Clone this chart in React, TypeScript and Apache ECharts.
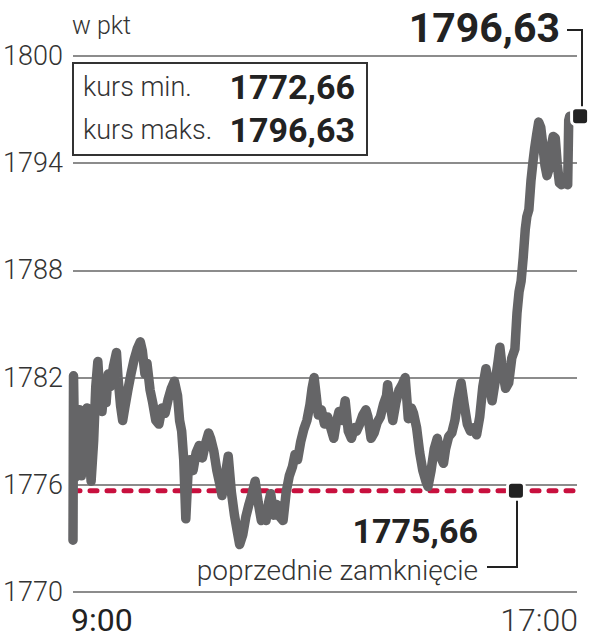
import React, { useEffect, useRef } from "react";
import * as echarts from "echarts";

// Intraday index path: minutes after 9:00 and index points
const minutes = [
  0, 0.5, 2, 3, 4, 6, 8, 11, 13.5, 15.5, 17.5, 20, 22, 24, 26, 28, 30, 32, 34, 36, 39, 42, 43.5, 46, 48, 50,
  53, 56, 59, 62, 65, 67, 69.5, 71.5, 74.5, 77, 80, 83, 86, 89, 92, 95, 98, 101, 103, 105, 107, 109, 111,
  113, 116, 119, 122, 125, 128, 131, 133, 136, 139, 142, 144, 147, 150, 153, 156, 159, 161, 164, 167, 170,
  173, 176, 179, 182, 185, 186.5, 189, 191, 194, 197, 200, 203, 206, 209, 212, 214.5, 217, 220, 223, 226,
  229, 231, 233, 235, 237, 240, 243, 246, 249, 252, 254.5, 257, 260, 263, 266, 269, 272, 274, 277, 280,
  283, 285, 288, 291, 294, 297, 300, 303, 304, 307, 309, 312, 315, 318, 321, 324, 327, 329, 332, 335, 338,
  341, 343, 346, 349, 352, 355, 358, 360, 363, 366, 369, 372, 375, 378, 381, 384, 387, 390, 393, 396, 399,
  402, 405, 408, 411, 412.5, 415, 418, 421, 424, 427, 429, 431, 433, 435, 437, 438.5, 440.5, 442.5, 444.5,
  446, 448, 450, 452, 454, 456, 458, 460, 462, 464, 466, 468, 470, 472, 475, 478, 479, 480,
];
const points = [
  1772.9, 1782.1, 1776.4, 1779.5, 1776.8, 1780.2, 1776.5, 1779.0, 1780.3, 1778.0, 1776.2, 1778.5, 1781.5,
  1782.9, 1781.0, 1780.1, 1781.3, 1780.6, 1782.2, 1781.5, 1782.6, 1783.4, 1782.0, 1780.4, 1779.6, 1780.3,
  1781.3, 1782.2, 1783.0, 1783.6, 1784.0, 1783.5, 1782.2, 1782.8, 1781.3, 1780.6, 1779.6, 1779.4, 1780.3,
  1780.0, 1780.8, 1781.4, 1781.8, 1781.0, 1779.6, 1779.0, 1777.4, 1774.1, 1776.5, 1777.4, 1776.8, 1777.8,
  1778.2, 1777.5, 1778.3, 1778.9, 1778.6, 1777.9, 1776.8, 1776.0, 1775.4, 1776.5, 1777.6, 1775.6, 1774.3,
  1773.3, 1772.66, 1773.2, 1774.2, 1774.9, 1775.5, 1776.2, 1775.0, 1774.0, 1774.6, 1774.0, 1775.0, 1775.5,
  1774.3, 1774.9, 1774.2, 1774.0, 1775.6, 1776.5, 1777.0, 1777.7, 1777.4, 1778.4, 1779.1, 1779.6, 1780.5,
  1781.4, 1782.0, 1781.0, 1779.9, 1780.2, 1779.4, 1779.8, 1779.2, 1778.6, 1779.5, 1780.1, 1779.6, 1780.7,
  1779.0, 1778.6, 1779.2, 1779.0, 1779.4, 1779.9, 1780.2, 1779.8, 1778.6, 1778.9, 1779.5, 1779.8, 1780.5,
  1781.0, 1781.6, 1780.3, 1779.6, 1780.6, 1781.3, 1781.6, 1782.0, 1779.7, 1780.3, 1780.0, 1779.2, 1777.8,
  1776.8, 1776.2, 1775.9, 1776.8, 1778.0, 1778.6, 1777.6, 1777.2, 1778.0, 1778.7, 1778.9, 1779.6, 1780.8,
  1781.7, 1780.5, 1779.4, 1779.0, 1779.2, 1778.8, 1779.8, 1781.5, 1782.5, 1781.6, 1780.7, 1781.8, 1783.0,
  1783.7, 1782.4, 1781.4, 1781.7, 1783.1, 1783.6, 1785.6, 1786.8, 1787.4, 1788.7, 1790.3, 1791.0, 1791.4,
  1793.0, 1794.1, 1794.8, 1795.6, 1796.3, 1796.0, 1795.0, 1793.9, 1793.3, 1793.7, 1794.9, 1795.5, 1795.4,
  1793.9, 1792.9, 1792.8, 1792.9, 1792.8, 1796.4, 1796.63,
];

const yTicks = [1770, 1776, 1782, 1788, 1794, 1800];
const timeLabels = ["9:00", "17:00"];
const unitLabel = "w pkt";

const minValue = 1772.66;
const maxValue = 1796.63;
const lastValue = 1796.63;
const prevClose = 1775.66;

const fmt = (v: number) => v.toFixed(2).replace(".", ",");

const FONT = "Roboto, 'Noto Sans', sans-serif";
const DARK = "#222";
const TEXT = "#333";

export default function App() {
  const ref = useRef<HTMLDivElement>(null);

  useEffect(() => {
    if (!ref.current) return;
    const chart = echarts.init(ref.current, null, { renderer: "svg" });
    const line = minutes.map((m, i) => [m, points[i]]);

    chart.setOption({
      animation: false,
      backgroundColor: "#fff",
      grid: { left: 73, right: 16, top: 56, bottom: 48 },
      xAxis: {
        type: "value",
        min: 0,
        max: 487,
        show: false,
      },
      yAxis: {
        type: "value",
        min: yTicks[0],
        max: yTicks[yTicks.length - 1],
        interval: 6,
        axisLine: { show: false },
        axisTick: { show: false },
        axisLabel: {
          margin: 10,
          color: TEXT,
          fontFamily: FONT,
          fontWeight: 300,
          fontSize: 27,
          formatter: (v: number) => String(v),
        },
        splitLine: { lineStyle: { color: "#8c8c8c", width: 2 } },
      },
      series: [
        {
          type: "line",
          data: [
            [0, prevClose],
            [487, prevClose],
          ],
          symbol: "none",
          silent: true,
          z: 2,
          lineStyle: { color: "#c8103e", width: 5, type: [7, 10], cap: "round" },
        },
        {
          type: "line",
          data: line,
          symbol: "none",
          z: 3,
          lineStyle: { color: "#656567", width: 9.5, join: "round", cap: "round" },
        },
        {
          type: "scatter",
          clip: false,
          z: 5,
          symbol: "roundRect",
          symbolSize: 17,
          itemStyle: { color: DARK, borderColor: "#fff", borderWidth: 3, opacity: 1 },
          data: [
            [490, lastValue],
            [428, prevClose],
          ],
        },
      ],
      graphic: [
        {
          type: "text",
          left: 72,
          top: 13,
          style: { text: unitLabel, font: `300 25px ${FONT}`, fill: TEXT },
        },
        {
          type: "rect",
          shape: { x: 73, y: 63, width: 294, height: 92 },
          style: { fill: "#fff", stroke: TEXT, lineWidth: 2 },
          z: 10,
        },
        {
          type: "text",
          x: 83,
          y: 100,
          z: 11,
          style: { text: "kurs min.", font: `300 27px ${FONT}`, fill: TEXT, textVerticalAlign: "bottom" },
        },
        {
          type: "text",
          x: 83,
          y: 143,
          z: 11,
          style: { text: "kurs maks.", font: `300 27px ${FONT}`, fill: TEXT, textVerticalAlign: "bottom" },
        },
        {
          type: "text",
          x: 355,
          y: 104,
          z: 11,
          style: {
            text: fmt(minValue),
            font: `bold 34px ${FONT}`,
            fill: DARK,
            textAlign: "right",
            textVerticalAlign: "bottom",
          },
        },
        {
          type: "text",
          x: 355,
          y: 147,
          z: 11,
          style: {
            text: fmt(maxValue),
            font: `bold 34px ${FONT}`,
            fill: DARK,
            textAlign: "right",
            textVerticalAlign: "bottom",
          },
        },
        {
          type: "text",
          x: 560,
          y: 48,
          style: {
            text: fmt(lastValue),
            font: `bold 41px ${FONT}`,
            fill: DARK,
            textAlign: "right",
            textVerticalAlign: "bottom",
          },
        },
        {
          type: "polyline",
          shape: { points: [[567, 30], [582, 30], [582, 110]] },
          style: { stroke: DARK, lineWidth: 2, fill: "none" },
        },
        {
          type: "text",
          x: 478,
          y: 548,
          style: {
            text: fmt(prevClose),
            font: `bold 34px ${FONT}`,
            fill: DARK,
            textAlign: "right",
            textVerticalAlign: "bottom",
          },
        },
        {
          type: "text",
          x: 478,
          y: 584,
          style: {
            text: "poprzednie zamknięcie",
            font: `300 28px ${FONT}`,
            fill: TEXT,
            textAlign: "right",
            textVerticalAlign: "bottom",
          },
        },
        {
          type: "polyline",
          shape: { points: [[487, 567], [517, 567], [517, 497]] },
          style: { stroke: DARK, lineWidth: 2, fill: "none" },
        },
        {
          type: "text",
          x: 71,
          y: 620,
          style: {
            text: timeLabels[0],
            font: `32px ${FONT}`,
            fill: DARK,
            textAlign: "left",
            textVerticalAlign: "middle",
          },
        },
        {
          type: "text",
          x: 578,
          y: 620,
          style: {
            text: timeLabels[1],
            font: `300 32px ${FONT}`,
            fill: TEXT,
            textAlign: "right",
            textVerticalAlign: "middle",
          },
        },
      ],
    });

    return () => chart.dispose();
  }, []);

  return (
    <div
      ref={ref}
      style={{ position: "fixed", left: 0, top: 0, width: 593, height: 640 }}
    />
  );
}
